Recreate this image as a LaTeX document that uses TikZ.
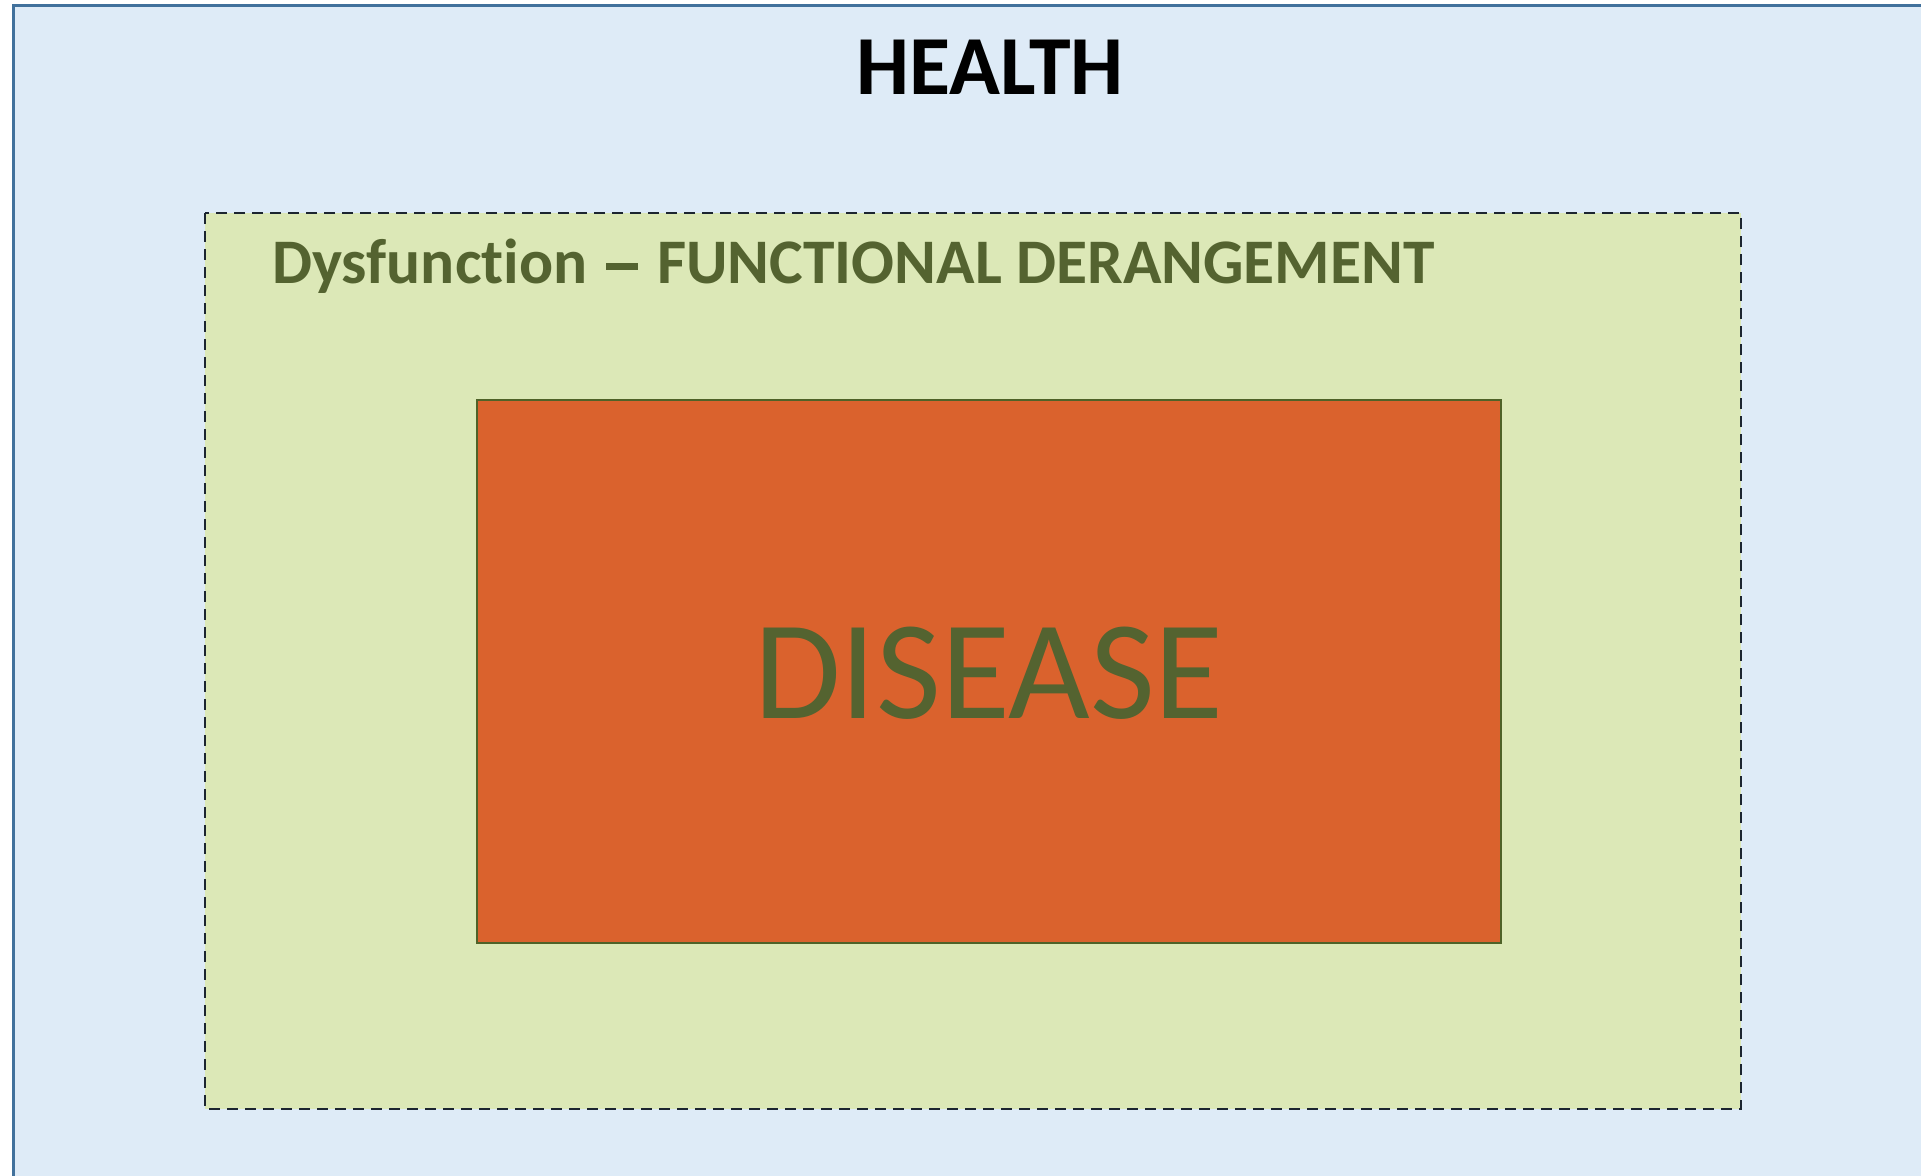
\documentclass[tikz,border=0pt]{standalone}
\usepackage{fontspec}
\setmainfont{Carlito}[Ligatures={NoCommon}]
\definecolor{skyfill}{HTML}{DEEBF7}
\definecolor{skyline}{HTML}{41719C}
\definecolor{olivefill}{HTML}{DCE8B7}
\definecolor{olivetext}{HTML}{546330}
\definecolor{olivedark}{HTML}{4F6228}
\definecolor{rust}{HTML}{DA622D}
\definecolor{dashcol}{HTML}{1C2530}
\tikzset{
  healthbox/.style={draw=skyline, fill=skyfill, line width=3pt},
  dysbox/.style={draw=dashcol, fill=olivefill, line width=2.6pt, dash pattern=on 11pt off 7pt},
  diseasebox/.style={draw=olivedark, fill=rust, line width=1.8pt},
  lbl/.style={inner sep=0pt, anchor=base}
}
\begin{document}
\begin{tikzpicture}[x=1pt,y=-1pt]
\useasboundingbox (0,0) rectangle (1921,1175);
\clip (0,0) rectangle (1921,1175);
\fill[white] (0,0) rectangle (1921,1175);
\draw[healthbox] (13,5) rectangle (1960,1220);
\draw[dysbox] (205,213) rectangle (1741,1109);
\draw[diseasebox] (477,400) rectangle (1501,943);
\node[lbl, font=\fontsize{84}{90}\selectfont\bfseries] (health) at (990,94) {HEALTH};
\node[lbl, anchor=base west, font=\fontsize{63.5}{70}\selectfont\bfseries, text=olivetext] (dys) at (272,283) {Dysfunction\hspace{0.3em}\rule[0.21em]{0.5em}{0.1em}\hspace{0.3em}FUNCTIONAL DERANGEMENT};
\node[lbl, font=\fontsize{141}{150}\selectfont, text=olivetext] (disease) at (989,718) {DISEASE};
\end{tikzpicture}
\end{document}
